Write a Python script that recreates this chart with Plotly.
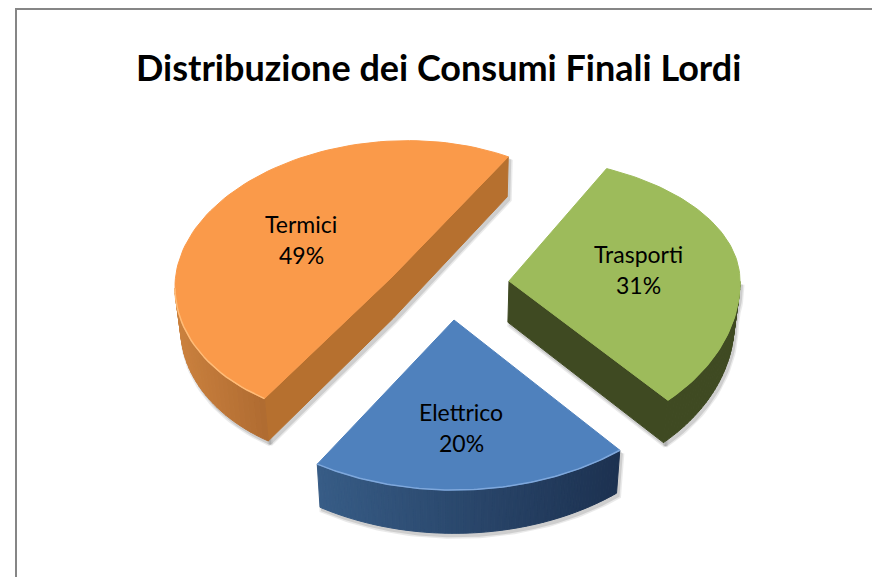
import numpy as np
import plotly.graph_objects as go

# ---- data ----
categories = ["Trasporti", "Elettrico", "Termici"]
values = [31, 20, 49]
title_text = "Distribuzione dei Consumi Finali Lordi"

# ---- drawing styles (one per slice) ----
top_colors = ["#9DBB5B", "#4F81BD", "#FA9A4A"]
start_angles = [25, 140, 216]
apex_x = [509, 454, 392]
apex_y = [281, 320, 277]
radius_x = [231, 258, 217]
radius_back = [124, 168, 136]
radius_front = [164, 170, 143]
skews = [0, 0, 10]
rim_left = ["#3F4A22", "#375C86", "#CB813E"]
rim_right = ["#3F4A22", "#1C3150", "#AF6B31"]
rim_light = ["#9DBB5B", "#7FA8DC", "#FFBC78"]
cut_colors = ["#3F4A22", None, "#B6702F"]
label_x = [638, 461, 301]
label_y = [254, 412, 224]
FONT = "Lato, Carlito, Calibri, sans-serif"

fig = go.Figure()


def rim_point(i, deg):
    t = np.radians(deg)
    ry = radius_back[i] if np.cos(t) > 0 else radius_front[i]
    return (apex_x[i] + radius_x[i] * np.sin(t),
            apex_y[i] - ry * np.cos(t) - skews[i] * np.sin(t))


def drop(x, y):
    return (x - 0.02 * (x - 455), y + 40 + 0.010 * (y - 156))


def poly(xs, ys, color, opacity=1.0, line=0, lc=None):
    fig.add_trace(go.Scatter(
        x=list(xs) + [xs[0]], y=list(ys) + [ys[0]], mode="lines", fill="toself",
        fillcolor=color, opacity=opacity,
        line=dict(width=line, color=lc or color), hoverinfo="skip", showlegend=False))


def hex_mix(a, b, f):
    ca = [int(a[k:k + 2], 16) for k in (1, 3, 5)]
    cb = [int(b[k:k + 2], 16) for k in (1, 3, 5)]
    return "#%02X%02X%02X" % tuple(round(p + (q - p) * f) for p, q in zip(ca, cb))


for i, val in enumerate(values):
    a0 = start_angles[i]
    a1 = a0 + val * 3.6
    degs = np.linspace(a0, a1, 90)
    arc = [rim_point(i, d) for d in degs]
    top_x = [apex_x[i]] + [p[0] for p in arc]
    top_y = [apex_y[i]] + [p[1] for p in arc]

    # visible part of the outer wall
    vis = [d for d in degs if 90 <= (d % 360) <= 270]
    up = [rim_point(i, d) for d in vis]
    low = [drop(*p) for p in up]

    # cut wall corners
    wall = None
    if cut_colors[i]:
        if i == 0:
            wall = [(apex_x[i], apex_y[i]), arc[-1]]
        else:
            wall = [arc[0], (apex_x[i], apex_y[i]), arc[-1]]
    wall_low = [drop(*p) for p in wall] if wall else []

    # soft shadow under the lower edge
    for op, w in [(0.14, 5), (0.22, 2)]:
        poly([p[0] + 2 for p in up + low[::-1]],
             [p[1] + 3 for p in up + low[::-1]],
             "#707070", op, w, "#707070")
        if wall:
            poly([p[0] + 2 for p in wall + wall_low[::-1]],
                 [p[1] + 3 for p in wall + wall_low[::-1]],
                 "#707070", op, w, "#707070")

    # cut wall
    if wall:
        poly([p[0] for p in wall + wall_low[::-1]],
             [p[1] for p in wall + wall_low[::-1]], cut_colors[i], line=1)

    # outer wall, in small strips so the shade can change along it
    xmin, xmax = min(p[0] for p in up), max(p[0] for p in up)
    for k in range(len(up) - 1):
        f = ((up[k][0] + up[k + 1][0]) / 2 - xmin) / max(xmax - xmin, 1)
        col = hex_mix(rim_left[i], rim_right[i], f)
        poly([up[k][0], up[k + 1][0], low[k + 1][0], low[k][0]],
             [up[k][1], up[k + 1][1], low[k + 1][1], low[k][1]], col, line=1)

    # top face
    poly(top_x, top_y, top_colors[i], line=1)

    # lighter bevel along the front edge
    fig.add_trace(go.Scatter(x=[p[0] for p in up], y=[p[1] for p in up], mode="lines",
                             line=dict(width=1.5, color=rim_light[i]),
                             hoverinfo="skip", showlegend=False))

    # labels
    fig.add_annotation(x=label_x[i], y=label_y[i], text=categories[i], showarrow=False,
                       font=dict(family=FONT, size=23, color="#000000"))
    fig.add_annotation(x=label_x[i], y=label_y[i] + 31, text=f"{val}%", showarrow=False,
                       font=dict(family=FONT, size=23, color="#000000"))

fig.add_annotation(x=438, y=67, text=f"<b>{title_text}</b>", showarrow=False,
                   font=dict(family=FONT, size=36, color="#000000"))

# chart frame
fig.add_shape(type="path", path="M 16 577 L 16 9 L 872 9",
              line=dict(color="#868686", width=2))

fig.update_layout(
    width=872, height=577, margin=dict(l=0, r=0, t=0, b=0),
    paper_bgcolor="#FFFFFF", plot_bgcolor="#FFFFFF", showlegend=False,
    xaxis=dict(range=[0, 872], visible=False, fixedrange=True),
    yaxis=dict(range=[577, 0], visible=False, fixedrange=True),
)
fig.write_html("out.html", post_script="document.body.style.margin='0';",
               config={"displayModeBar": False})
